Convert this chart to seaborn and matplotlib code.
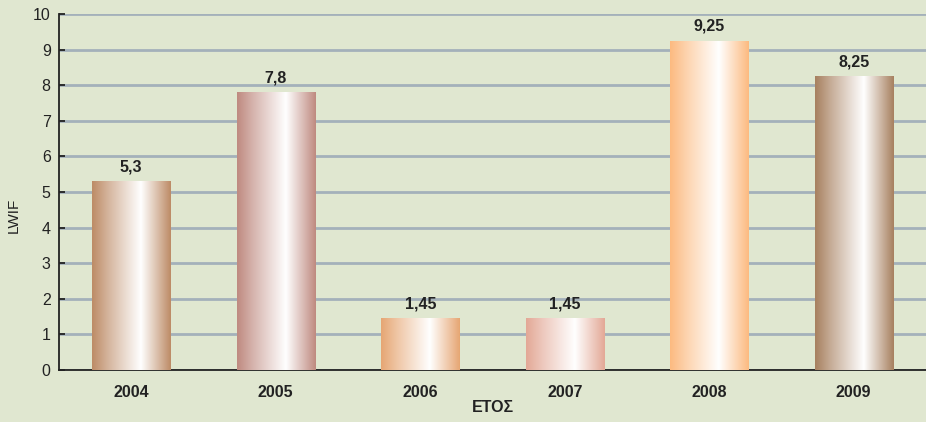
import numpy as np
import pandas as pd
import matplotlib
matplotlib.use("Agg")
import matplotlib.pyplot as plt
import seaborn as sns
from matplotlib.colors import LinearSegmentedColormap, to_rgb

years = ["2004", "2005", "2006", "2007", "2008", "2009"]
values = [5.3, 7.8, 1.45, 1.45, 9.25, 8.25]
value_labels = ["5,3", "7,8", "1,45", "1,45", "9,25", "8,25"]
bar_colors = ["#bd8b66", "#bf8a80", "#e6a673", "#e3a896", "#fcba80", "#a7805f"]
y_ticks = [0, 1, 2, 3, 4, 5, 6, 7, 8, 9, 10]

bg = "#e0e7d0"
sns.set_theme(style="white")
plt.rcParams["font.family"] = ["Liberation Sans", "DejaVu Sans"]

fig = plt.figure(figsize=(9.26, 4.22), dpi=100, facecolor=bg)
ax = fig.add_axes([59 / 926, 52 / 422, 867 / 926, 356 / 422])
ax.set_facecolor(bg)

df = pd.DataFrame({"year": years, "value": values})
sns.barplot(data=df, x="year", y="value", hue="year", palette=bar_colors,
            legend=False, width=0.54, ax=ax, zorder=3, edgecolor="none")

# gradient fill for each bar
for patch, col in zip(ax.patches, bar_colors):
    x0, y0 = patch.get_x(), patch.get_y()
    w, h = patch.get_width(), patch.get_height()
    c = np.array(to_rgb(col))
    cmap = LinearSegmentedColormap.from_list(
        "g", [(0.0, c), (0.2, c * 0.65 + 0.35), (0.62, (1, 1, 1)), (1.0, c)])
    grad = np.linspace(0, 1, 256).reshape(1, -1)
    im = ax.imshow(grad, cmap=cmap, aspect="auto", extent=[x0, x0 + w, y0, y0 + h],
                   zorder=3.5, interpolation="bilinear")
    im.set_clip_path(patch)
ax.set_xlim(-0.5, -0.5 + 867 / 146)
ax.set_ylim(0, 10)

for i, (v, lab) in enumerate(zip(values, value_labels)):
    ax.annotate(lab, (i, v), xytext=(0, 5), textcoords="offset points",
                ha="center", va="bottom", fontsize=11.5, fontweight="bold",
                color="#222222", zorder=5)

ax.set_yticks(y_ticks)
ax.set_yticklabels([str(t) for t in y_ticks], fontsize=11.5, color="#222222")
ax.yaxis.grid(True, color="#a4b1ba", linewidth=2, zorder=1)
ax.set_axisbelow(True)

ax.set_xticks(range(len(years)))
ax.set_xticklabels(years, fontsize=11.5, fontweight="bold", color="#222222")
ax.set_xticks(np.arange(-0.5, len(years) + 0.5, 1), minor=True)
ax.tick_params(axis="x", which="major", length=0, pad=11)
ax.tick_params(axis="x", which="minor", length=7, width=1.3, color="#222222", direction="out")
ax.tick_params(axis="y", which="major", length=4, width=1.3, color="#222222",
               direction="in", pad=6, left=True)

for side in ["top", "right"]:
    ax.spines[side].set_visible(False)
for side in ["left", "bottom"]:
    ax.spines[side].set_color("#222222")
    ax.spines[side].set_linewidth(1.3)

ax.set_xlabel("ΕΤΟΣ", fontsize=11.5, fontweight="bold", color="#222222", labelpad=0)
ax.set_ylabel("LWIF", fontsize=11, color="#222222")
ax.yaxis.set_label_coords(-0.044, 0.433)

fig.savefig("out.png", dpi=100, facecolor=bg)
